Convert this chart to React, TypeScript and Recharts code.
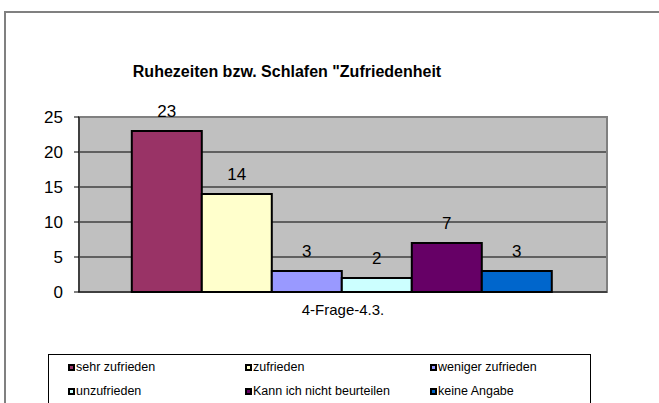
import React from "react";
import { BarChart, Bar, XAxis, YAxis, CartesianGrid, Legend, LabelList, ReferenceArea } from "recharts";

const categories = ["4-Frage-4.3."];
const seriesNames = [
  "sehr zufrieden",
  "zufrieden",
  "weniger zufrieden",
  "unzufrieden",
  "Kann ich nicht beurteilen",
  "keine Angabe",
];
const seriesValues = [23, 14, 3, 2, 7, 3];
const seriesColors = ["#993366", "#FFFFCC", "#9999FF", "#CCFFFF", "#660066", "#0066CC"];
const yTicks = [0, 5, 10, 15, 20, 25];
const title = 'Ruhezeiten bzw. Schlafen "Zufriedenheit';

const data = categories.map((name) => {
  const row: Record<string, string | number> = { name };
  seriesNames.forEach((s, i) => {
    row[`s${i}`] = seriesValues[i];
  });
  return row;
});

const FONT = "Arial, 'Liberation Sans', sans-serif";

const LegendContent = () => (
  <div
    style={{
      position: "relative",
      width: 543,
      height: 60,
      border: "1px solid #000",
      boxSizing: "border-box",
      fontFamily: FONT,
      fontSize: 12.5,
      color: "#000",
      background: "#fff",
    }}
  >
    {seriesNames.map((s, i) => {
      const col = i % 3;
      const row = Math.floor(i / 3);
      const lefts = [19, 196, 381];
      return (
        <div
          key={s}
          style={{
            position: "absolute",
            left: lefts[col],
            top: 5 + row * 24,
            display: "flex",
            alignItems: "center",
            whiteSpace: "nowrap",
            lineHeight: "15px",
          }}
        >
          <span
            style={{
              display: "inline-block",
              width: 3,
              height: 3,
              background: seriesColors[i],
              border: "2px solid #000",
              marginRight: 1,
            }}
          />
          <span>{s}</span>
        </div>
      );
    })}
  </div>
);

export default function App() {
  return (
    <div
      style={{
        position: "absolute",
        left: 0,
        top: 0,
        width: 659,
        height: 403,
        overflow: "hidden",
        background: "#fff",
      }}
    >
      <div
        style={{
          position: "absolute",
          left: 4,
          top: 11,
          width: 700,
          height: 450,
          borderTop: "2px solid #808080",
          borderLeft: "2px solid #808080",
        }}
      />
      <div
        style={{
          position: "absolute",
          left: 0,
          width: 574,
          top: 63,
          textAlign: "center",
          fontFamily: FONT,
          fontWeight: "bold",
          fontSize: 16,
          lineHeight: "normal",
          color: "#000",
        }}
      >
        {title}
      </div>
      <div style={{ position: "absolute", left: 0, top: 0 }}>
        <BarChart
          width={659}
          height={403}
          data={data}
          margin={{ top: 117, right: 52, bottom: 0, left: 0 }}
          barCategoryGap="10%"
          barGap={0}
        >
          <CartesianGrid
            vertical={false}
            stroke="#000"
            fill="#C0C0C0"
            fillOpacity={1}
          />
          <ReferenceArea
            y1={0}
            y2={25}
            fill="none"
            stroke="#808080"
            strokeWidth={2}
            ifOverflow="extendDomain"
          />
          <XAxis
            dataKey="name"
            height={62}
            axisLine={{ stroke: "#000" }}
            tickLine={false}
            tick={{ fontFamily: FONT, fontSize: 15, fill: "#000" }}
            tickMargin={6}
          />
          <YAxis
            width={79}
            domain={[0, 25]}
            ticks={yTicks}
            interval={0}
            axisLine={{ stroke: "#000" }}
            tickLine={{ stroke: "#000" }}
            tickSize={5}
            tickMargin={11}
            tick={{ fontFamily: FONT, fontSize: 17, fill: "#000" }}
          />
          <Legend
            verticalAlign="bottom"
            height={49}
            content={<LegendContent />}
            wrapperStyle={{ left: 48, bottom: 0, width: 543, height: 49 }}
          />
          {seriesNames.map((s, i) => (
            <Bar
              key={s}
              dataKey={`s${i}`}
              name={s}
              fill={seriesColors[i]}
              stroke="#000"
              strokeWidth={2}
              isAnimationActive={false}
            >
              <LabelList
                dataKey={`s${i}`}
                position="top"
                offset={14}
                style={{ fontFamily: FONT, fontSize: 17, fill: "#000" }}
              />
            </Bar>
          ))}
        </BarChart>
      </div>
    </div>
  );
}
